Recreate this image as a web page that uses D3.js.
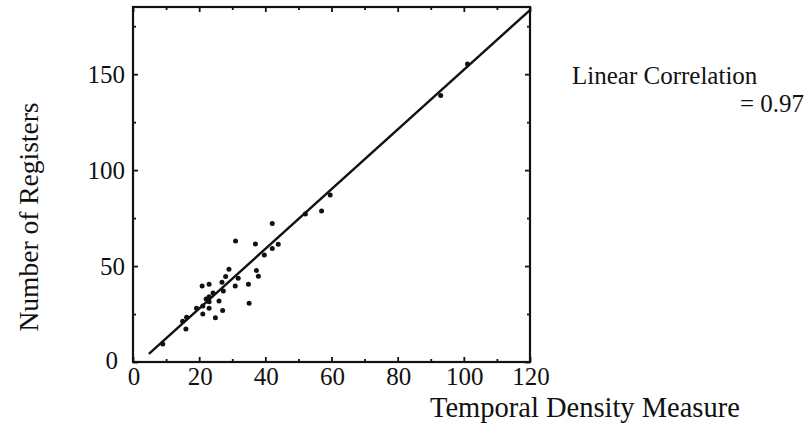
<!DOCTYPE html>
<html>
<head>
<meta charset="utf-8">
<script src="https://cdn.jsdelivr.net/npm/d3@7"></script>
<style>
  html, body { margin: 0; padding: 0; background: #fff; }
  svg { display: block; }
  text { font-family: "Liberation Serif", "Times New Roman", serif; fill: #111; }
</style>
</head>
<body>
<svg id="chart" width="805" height="427"></svg>
<script>
// ---- data ----
const tempDensity = [101.1, 93.0, 59.6, 52.1, 57.0, 42.1, 43.9, 42.1, 39.7, 37.0, 31.0,
  29.0, 28.0, 26.9, 31.8, 30.9, 34.9, 37.3, 37.9, 35.1, 23.0, 20.9, 23.0, 22.1, 26.0,
  27.3, 23.0, 21.1, 21.1, 19.2, 27.1, 24.9, 16.2, 15.0, 16.0, 9.0, 24.2, 23.0];
const numRegisters = [155.3, 138.9, 87.0, 77.1, 78.7, 72.2, 61.4, 59.2, 55.8, 61.5, 63.1,
  48.3, 44.5, 41.5, 43.6, 39.6, 40.5, 47.7, 44.7, 30.6, 40.5, 39.6, 34.0, 32.8, 31.8,
  37.0, 28.0, 29.2, 25.0, 28.0, 26.8, 23.1, 23.3, 21.2, 17.2, 9.4, 36.0, 31.4];
const fitX = [4.8, 120];
const fitY = [4.2, 183.4];
const xMajorTicks = [0, 20, 40, 60, 80, 100, 120];
const xMinorTicks = [10, 30, 50, 70, 90, 110];
const yMajorTicks = [0, 50, 100, 150];
const yMinorTicks = [25, 75, 125, 175];
const xTitle = "Temporal Density Measure";
const yTitle = "Number of Registers";
const noteLine1 = "Linear Correlation";
const noteLine2 = "= 0.97";

// ---- layout ----
const svg = d3.select("#chart");
const L = 133, R = 530, T = 7, B = 362;
const x = d3.scaleLinear().domain([0, 120]).range([L, R]);
const y = d3.scaleLinear().domain([0, 185]).range([B, T]);
const FS = 25, TFS = 27.5;

// frame
svg.append("rect").attr("x", L).attr("y", T).attr("width", R - L).attr("height", B - T)
  .attr("fill", "none").attr("stroke", "#111").attr("stroke-width", 2.2);

// ticks (inward, on all four sides)
function styleTicks(g) {
  g.select(".domain").remove();
  g.selectAll("line").attr("stroke", "#111").attr("stroke-width", 1.8);
}
function ticksX(vals, len) {
  svg.append("g").attr("transform", `translate(0,${B})`)
    .call(d3.axisBottom(x).tickValues(vals).tickSize(-len).tickFormat("")).call(styleTicks);
  svg.append("g").attr("transform", `translate(0,${T})`)
    .call(d3.axisTop(x).tickValues(vals).tickSize(-len).tickFormat("")).call(styleTicks);
}
function ticksY(vals, len) {
  svg.append("g").attr("transform", `translate(${L},0)`)
    .call(d3.axisLeft(y).tickValues(vals).tickSize(-len).tickFormat("")).call(styleTicks);
  svg.append("g").attr("transform", `translate(${R},0)`)
    .call(d3.axisRight(y).tickValues(vals).tickSize(-len).tickFormat("")).call(styleTicks);
}
ticksX(xMajorTicks, 5); ticksX(xMinorTicks, 3);
ticksY(yMajorTicks, 5); ticksY(yMinorTicks, 3);

// tick labels
svg.append("g").selectAll("text").data(xMajorTicks).join("text")
  .attr("x", d => x(d) + 1).attr("y", B + 23)
  .attr("text-anchor", "middle").attr("font-size", FS).text(d => d);
svg.append("g").selectAll("text").data(yMajorTicks).join("text")
  .attr("x", d => d === 0 ? L - 15 : L - 8).attr("y", d => y(d) + (d === 0 ? 7 : 9))
  .attr("text-anchor", "end").attr("font-size", FS).text(d => d);

// titles
svg.append("text").attr("x", 430).attr("y", 417).attr("font-size", 28.5).text(xTitle);
svg.append("text").attr("transform", `translate(38,217) rotate(-90)`)
  .attr("text-anchor", "middle").attr("font-size", TFS).text(yTitle);
svg.append("text").attr("x", 572).attr("y", 84).attr("font-size", FS).text(noteLine1);
svg.append("text").attr("x", 804).attr("y", 112).attr("text-anchor", "end")
  .attr("font-size", FS).text(noteLine2);

// regression line
svg.append("path")
  .datum(fitX.map((v, i) => [v, fitY[i]]))
  .attr("d", d3.line().x(d => x(d[0])).y(d => y(d[1])))
  .attr("fill", "none").attr("stroke", "#111").attr("stroke-width", 2.4);

// points
svg.append("g").selectAll("circle")
  .data(tempDensity.map((v, i) => [v, numRegisters[i]]))
  .join("circle")
  .attr("cx", d => x(d[0])).attr("cy", d => y(d[1])).attr("r", 2.5)
  .attr("fill", "#111");
</script>
</body>
</html>
